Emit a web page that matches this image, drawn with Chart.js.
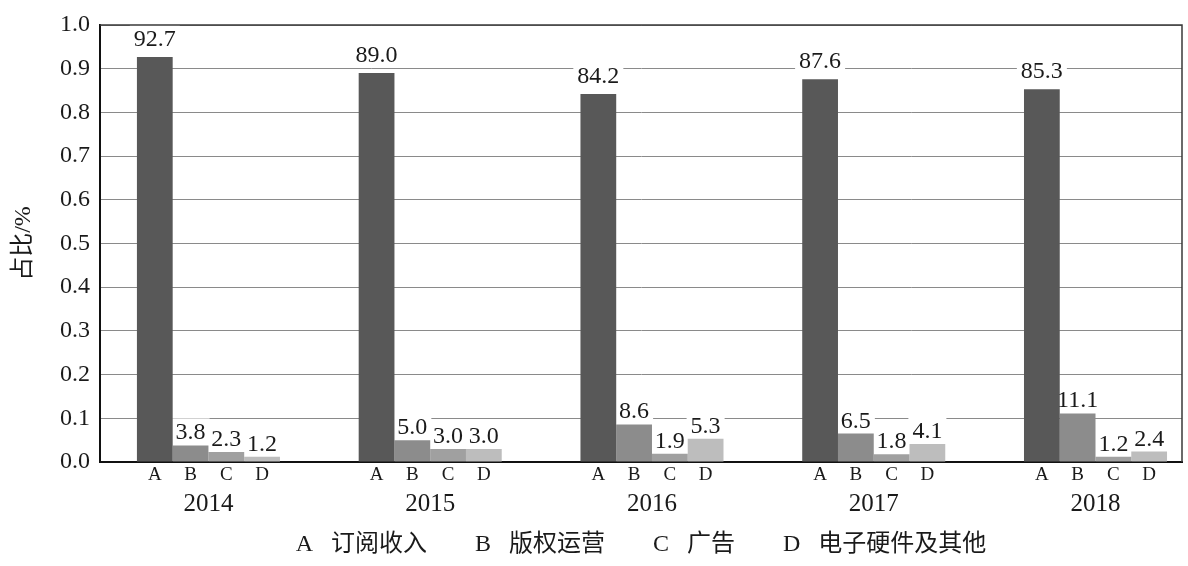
<!DOCTYPE html>
<html>
<head>
<meta charset="utf-8">
<script src="https://cdn.jsdelivr.net/npm/chart.js@4.4.1/dist/chart.umd.min.js"></script>
<style>
  html, body { margin: 0; padding: 0; background: #fff; }
  #wrap { width: 1188px; height: 566px; }
</style>
</head>
<body>
<div id="wrap"><canvas id="share-chart"></canvas></div>
<script>
// data
const years = [2014, 2015, 2016, 2017, 2018];
const seriesKeys = ['A', 'B', 'C', 'D'];
const seriesNames = ['订阅收入', '版权运营', '广告', '电子硬件及其他'];
const shareA = [92.7, 89.0, 84.2, 87.6, 85.3];
const shareB = [3.8, 5.0, 8.6, 6.5, 11.1];
const shareC = [2.3, 3.0, 1.9, 1.8, 1.2];
const shareD = [1.2, 3.0, 5.3, 4.1, 2.4];

const serif = "'Liberation Serif', 'Noto Sans CJK SC', serif";
Chart.defaults.font.family = serif;
Chart.defaults.color = '#1a1a1a';

const toRatio = (arr) => arr.map((v) => v / 100);

// helper: walk every bar with its label text
function eachLabel(chart, fn) {
    chart.data.datasets.forEach((dataset, di) => {
        const meta = chart.getDatasetMeta(di);
        meta.data.forEach((bar, i) => {
            fn(dataset, bar, (dataset.data[i] * 100).toFixed(1));
        });
    });
}

// white boxes behind value labels: hide gridlines, drawn before the bars
// value text and the A/B/C/D letters go on top afterwards
const barLabels = {
    id: 'barLabels',
    beforeDatasetsDraw: function(chart) {
        const ctx = chart.ctx;
        ctx.save();
        ctx.font = '24px ' + serif;
        ctx.fillStyle = '#fff';
        eachLabel(chart, (dataset, bar, text) => {
            const w = ctx.measureText(text).width;
            const baseY = bar.y - dataset.labelGap;
            ctx.fillRect(bar.x - w / 2 - 4, baseY - 21, w + 8, 24);
        });
        ctx.restore();
    },
    afterDatasetsDraw: function(chart) {
        const ctx = chart.ctx;
        const bottom = chart.chartArea.bottom;
        ctx.save();
        ctx.fillStyle = '#1a1a1a';
        ctx.textAlign = 'center';
        eachLabel(chart, (dataset, bar, text) => {
            ctx.font = '24px ' + serif;
            ctx.textBaseline = 'alphabetic';
            ctx.fillText(text, bar.x, bar.y - dataset.labelGap);

            ctx.font = '19px ' + serif;
            ctx.textBaseline = 'middle';
            ctx.fillText(dataset.label, bar.x, bottom + 13);
        });
        ctx.restore();
    }
};

const frame = {
    id: 'frame',
    beforeDatasetsDraw: function(chart) {
        const {left, right, top, bottom} = chart.chartArea;
        const ctx = chart.ctx;
        ctx.save();
        ctx.strokeStyle = '#3a3a3a';
        ctx.lineWidth = 1.5;
        ctx.beginPath();
        ctx.moveTo(left, top);
        ctx.lineTo(right, top);
        ctx.lineTo(right, bottom);
        ctx.stroke();
        ctx.restore();
    }
};

const barColors = ['#585858', '#8c8c8c', '#a0a0a0', '#bdbdbd'];
const gaps = [11, 6, 6, 6];
const allShares = [shareA, shareB, shareC, shareD];

const legendText = seriesKeys
    .map((k, i) => k + '   ' + seriesNames[i])
    .join('        ');

const shareChart = new Chart(document.getElementById('share-chart'), {
    type: 'bar',
    data: {
        labels: years,
        datasets: seriesKeys.map((key, i) => ({
            label: key,
            data: toRatio(allShares[i]),
            backgroundColor: barColors[i],
            borderWidth: 0,
            labelGap: gaps[i],
            categoryPercentage: 0.645,
            barPercentage: 1.0,
        })),
    },
    options: {
        responsive: true,
        maintainAspectRatio: false,
        animation: false,
        layout: {
            padding: { top: 25, right: 6, left: 0, bottom: 0 },
        },
        plugins: {
            legend: { display: false },
            tooltip: { enabled: false },
        },
        scales: {
            x: {
                type: 'linear',
                offset: false,
                min: 2013.511,
                max: 2018.390,
                grid: { display: false, offset: false, drawTicks: false },
                border: { display: true, color: '#111', width: 2 },
                ticks: {
                    stepSize: 1,
                    includeBounds: false,
                    autoSkip: false,
                    padding: 27,
                    font: { size: 25 },
                    callback: (v) => String(v),
                },
                title: {
                    display: true,
                    text: legendText,
                    font: { size: 24, family: serif },
                    color: '#1a1a1a',
                    padding: { top: 0, bottom: 7 },
                },
                afterFit: (scale) => { scale.height = 104; },
            },
            y: {
                min: 0,
                max: 1.0,
                grid: { color: '#8a8a8a', lineWidth: 1, drawTicks: false },
                border: { display: true, color: '#111', width: 2 },
                ticks: {
                    stepSize: 0.1,
                    padding: 10,
                    font: { size: 24 },
                    callback: (v) => v.toFixed(1),
                },
                title: {
                    display: true,
                    text: '占比/%',
                    font: { size: 24, family: serif },
                    padding: { top: 9, bottom: 0 },
                },
                afterFit: (scale) => { scale.width = 100; },
            },
        },
    },
    plugins: [barLabels, frame],
});
</script>
</body>
</html>
